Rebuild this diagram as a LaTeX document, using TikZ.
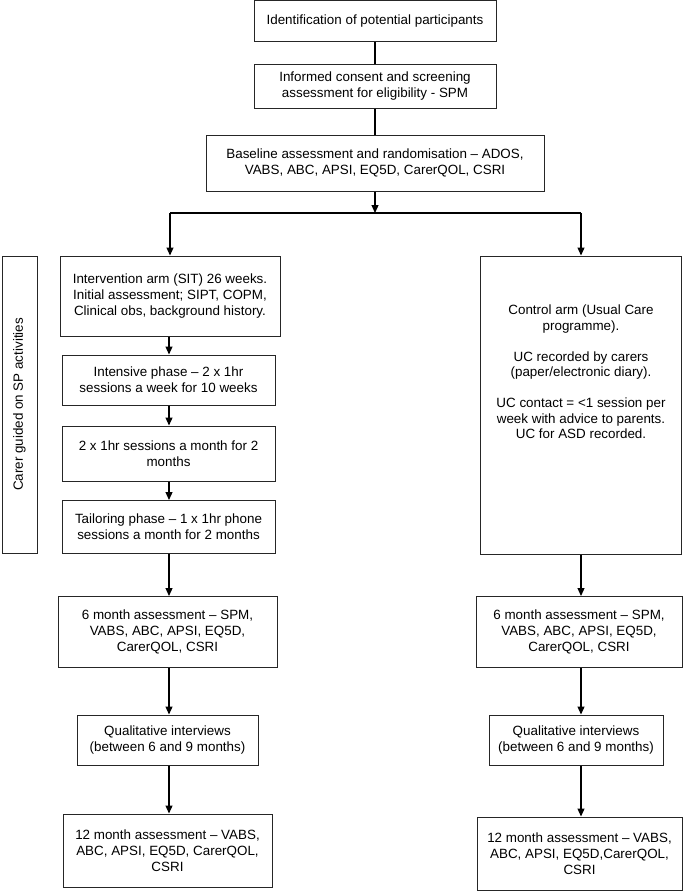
\documentclass[tikz,border=0pt]{standalone}
\usepackage{fontspec}
\setmainfont{Liberation Sans}
\usetikzlibrary{arrows.meta}
\begin{document}
\begin{tikzpicture}[x=1pt,y=-1pt,
  box/.style={draw=black!85, line width=1pt, rectangle, inner sep=0pt, align=center,
    font=\fontsize{13.4}{16}\selectfont},
  txt/.style={inner sep=0pt, align=center, font=\fontsize{13.4}{15.5}\selectfont},
  ln/.style={draw=black, line width=1.2pt},
  arr/.style={ln, -{Triangle[length=8pt,width=7pt]}}]
\useasboundingbox (0,0) rectangle (685,891);
\fill[white] (0,0) rectangle (685,891);

\node[box, minimum width=242pt, minimum height=41pt] (b1) at (375,21.5) {Identification of potential participants};
\node[box, minimum width=242pt, minimum height=43pt] (b2) at (375,86.5) {Informed consent and screening\\assessment for eligibility - SPM};
\node[box, minimum width=338pt, minimum height=56pt] (b3) at (375,163) {Baseline assessment and randomisation -- ADOS,\\VABS, ABC, APSI, EQ5D, CarerQOL, CSRI};

\coordinate (jn) at (375,213);
\coordinate (jl) at (170,213);
\coordinate (jr) at (581,213);

\node[box, minimum width=220pt, minimum height=80pt] (int) at (170,296) {Intervention arm (SIT) 26 weeks.\\Initial assessment; SIPT, COPM,\\Clinical obs, background history.};
\node[box, minimum width=213pt, minimum height=50pt] (intens) at (168.5,380) {Intensive phase -- 2 x 1hr\\sessions a week for 10 weeks};
\node[box, minimum width=213pt, minimum height=55pt] (two) at (168.5,453.5) {2 x 1hr sessions a month for 2\\months};
\node[box, minimum width=213pt, minimum height=53pt] (tail) at (168.5,527) {Tailoring phase -- 1 x 1hr phone\\sessions a month for 2 months};
\node[box, minimum width=35pt, minimum height=297pt] (carer) at (19.5,404.5) {};
\node[txt, rotate=90] (carertext) at (carer.center) {Carer guided on SP activities};

\node[box, minimum width=201pt, minimum height=298pt] (ctrl) at (581,405) {};
\node[txt] (ctrltext) at (581,372) {Control arm (Usual Care\\programme).\\[15.5pt]UC recorded by carers\\(paper/electronic diary).\\[15.5pt]UC contact = <1 session per\\week with advice to parents.\\UC for ASD recorded.};

\node[box, minimum width=219pt, minimum height=71pt] (l6) at (167.5,632) {6 month assessment -- SPM,\\VABS, ABC, APSI, EQ5D,\\CarerQOL, CSRI};
\node[box, minimum width=181pt, minimum height=50pt] (lq) at (167.5,740) {Qualitative interviews\\(between 6 and 9 months)};
\node[box, minimum width=209pt, minimum height=73pt] (l12) at (167.5,850.5) {12 month assessment -- VABS,\\ABC, APSI, EQ5D, CarerQOL,\\CSRI};

\node[box, minimum width=206pt, minimum height=71pt] (r6) at (579,632) {6 month assessment -- SPM,\\VABS, ABC, APSI, EQ5D,\\CarerQOL, CSRI};
\node[box, minimum width=174pt, minimum height=50pt] (rq) at (576,740) {Qualitative interviews\\(between 6 and 9 months)};
\node[box, minimum width=205pt, minimum height=73pt] (r12) at (579.5,853.5) {12 month assessment -- VABS,\\ABC, APSI, EQ5D,CarerQOL,\\CSRI};

\draw[ln] (b1.south) -- (b2.north);
\draw[ln] (b2.south) -- (b3.north);
\draw[arr] (b3.south) -- (jn);
\draw[ln] (jl) -- (jr);
\draw[arr] (jl) -- (jl |- int.north);
\draw[arr] (jr) -- (jr |- ctrl.north);

\draw[arr] (169,0 |- int.south) -- (169,0 |- intens.north);
\draw[arr] (169,0 |- intens.south) -- (169,0 |- two.north);
\draw[arr] (169,0 |- two.south) -- (169,0 |- tail.north);
\draw[arr] (169,0 |- tail.south) -- (169,0 |- l6.north);
\draw[arr] (169,0 |- l6.south) -- (169,0 |- lq.north);
\draw[arr] (169,0 |- lq.south) -- (169,0 |- l12.north);

\draw[arr] (jr |- ctrl.south) -- (jr |- r6.north);
\draw[arr] (jr |- r6.south) -- (jr |- rq.north);
\draw[arr] (jr |- rq.south) -- (jr |- r12.north);
\end{tikzpicture}
\end{document}
